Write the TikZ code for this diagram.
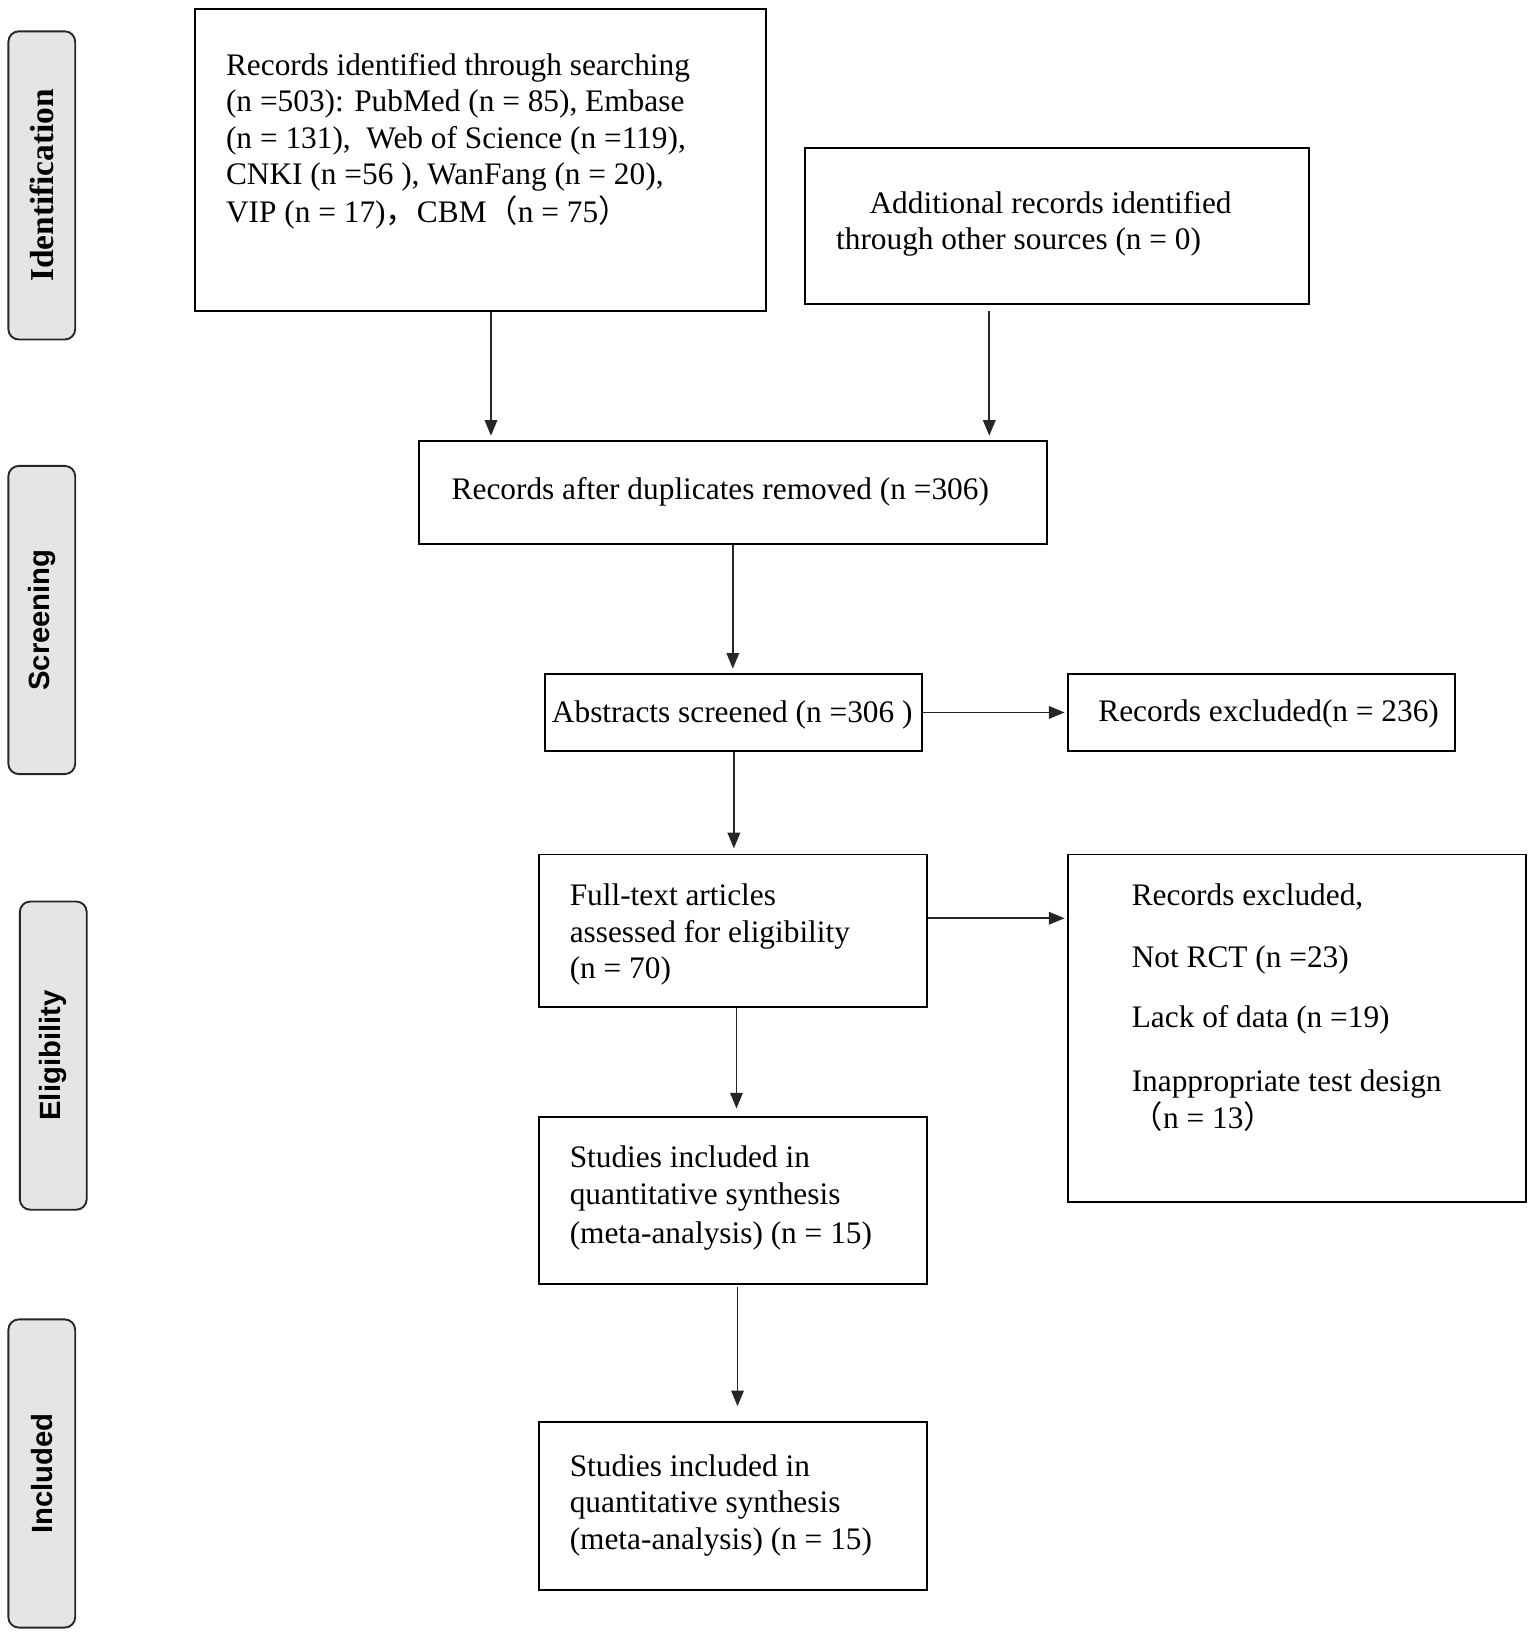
\documentclass[tikz,border=0pt]{standalone}
\usepackage{fontspec}
\setmainfont{Liberation Serif}
\newfontfamily\tabsans{Liberation Sans}
\newfontfamily\cjk{Noto Sans CJK SC}
\usetikzlibrary{arrows.meta}
\begin{document}
\begin{tikzpicture}[x=0.5pt,y=-0.5pt,
  box/.style={draw=black, line width=0.9pt, rectangle, inner sep=0pt},
  tab/.style={draw=black!85, fill=black!10, rounded corners=5pt, line width=0.9pt,
              minimum width=32pt, minimum height=147.5pt, inner sep=0pt},
  tabtxt/.style={rotate=90, inner sep=0pt, font=\tabsans\bfseries\fontsize{14pt}{16pt}\selectfont},
  tabser/.style={rotate=90, inner sep=0pt, font=\bfseries\fontsize{16pt}{18pt}\selectfont},
  txt/.style={anchor=base west, inner sep=0pt, font=\fontsize{15pt}{17.5pt}\selectfont},
  arr/.style={draw=black!85, line width=0.8pt, -{Triangle[length=7.5pt,width=6pt]}}]

\useasboundingbox (0,0) rectangle (1470,1568);

% stage tabs
\node[tab] (tab1) at (40,177.5) {};
\node[tabser] (tab1t) at (tab1.center) {Identification};
\node[tab] (tab2) at (40,593.5) {};
\node[tabtxt] (tab2t) at (tab2.center) {Screening};
\node[tab] (tab3) at (51,1010.5) {};
\node[tabtxt] (tab3t) at (tab3.center) {Eligibility};
\node[tab] (tab4) at (40,1410.5) {};
\node[tabtxt] (tab4t) at (tab4.center) {Included};

% boxes
\node[box, minimum width=273pt, minimum height=144.5pt] (b1) at (460,153.5) {};
\node[box, minimum width=241pt, minimum height=74.5pt] (b2) at (1012,216.5) {};
\node[box, minimum width=300.5pt, minimum height=49.5pt] (b3) at (701.5,471.5) {};
\node[box, minimum width=180.5pt, minimum height=37pt] (b4) at (702.5,682) {};
\node[box, minimum width=185.5pt, minimum height=37pt] (b5) at (1207.5,682) {};
\node[box, minimum width=185.5pt, minimum height=73pt] (b6) at (701.5,891) {};
\node[box, minimum width=219.5pt, minimum height=166.5pt] (b7) at (1241.5,984.5) {};
\node[box, minimum width=185.5pt, minimum height=80pt] (b8) at (701.5,1149) {};
\node[box, minimum width=185.5pt, minimum height=80.5pt] (b9) at (701.5,1441.5) {};

% texts
\node[txt] (t1a) at (216,72) {Records identified through searching};
\node[txt] (t1b) at (216,107) {(n =503): PubMed (n = 85), Embase};
\node[txt] (t1c) at (216,142) {(n = 131),\ \ Web of Science (n =119),};
\node[txt] (t1d) at (216,177) {CNKI (n =56 ), WanFang (n = 20),};
\node[txt] (t1e) at (216,213) {VIP (n = 17){\cjk ，}CBM{\cjk （}n = 75{\cjk ）}};

\node[txt] (t2a) at (832,204) {Additional records identified};
\node[txt] (t2b) at (800,239) {through other sources (n = 0)};

\node[txt] (t3) at (432,478) {Records after duplicates removed (n =306)};
\node[txt] (t4) at (528,692) {Abstracts screened (n =306 )};
\node[txt] (t5) at (1051,691) {Records excluded(n = 236)};

\node[txt] (t6a) at (545,867) {Full-text articles};
\node[txt] (t6b) at (545,902) {assessed for eligibility};
\node[txt] (t6c) at (545,937) {(n = 70)};

\node[txt] (t7a) at (1083,867) {Records excluded,};
\node[txt] (t7b) at (1083,926) {Not RCT (n =23)};
\node[txt] (t7c) at (1083,984) {Lack of data (n =19)};
\node[txt] (t7d) at (1083,1045) {Inappropriate test design};
\node[txt] (t7e) at (1083,1080) {{\cjk （}n = 13{\cjk ）}};

\node[txt] (t8a) at (545,1118) {Studies included in};
\node[txt] (t8b) at (545,1153) {quantitative synthesis};
\node[txt] (t8c) at (545,1190) {(meta-analysis) (n = 15)};

\node[txt] (t9a) at (545,1413) {Studies included in};
\node[txt] (t9b) at (545,1448) {quantitative synthesis};
\node[txt] (t9c) at (545,1483) {(meta-analysis) (n = 15)};

% connectors
\draw[arr, shorten >=2pt] ([xshift=5pt]b1.south) -- ([xshift=5pt]b1.south |- b3.north);
\draw[arr, shorten <=3pt, shorten >=2pt] ([xshift=-32.5pt]b2.south) -- ([xshift=-32.5pt]b2.south |- b3.north);
\draw[arr, shorten >=2pt] (b3.south) -- (b3.south |- b4.north);
\draw[arr, shorten >=2.5pt] (b4.south) -- (b4.south |- b6.north);
\draw[arr, shorten >=1pt] (b4.east) -- (b4.east -| b5.west);
\draw[arr, shorten >=1pt] ([yshift=6pt]b6.east) -- ([yshift=6pt]b6.east -| b7.west);
\draw[arr, shorten >=3.5pt] ([xshift=1.75pt]b6.south) -- ([xshift=1.75pt]b6.south |- b8.north);
\draw[arr, shorten <=1pt, shorten >=7pt] ([xshift=2.25pt]b8.south) -- ([xshift=2.25pt]b8.south |- b9.north);
\end{tikzpicture}
\end{document}
